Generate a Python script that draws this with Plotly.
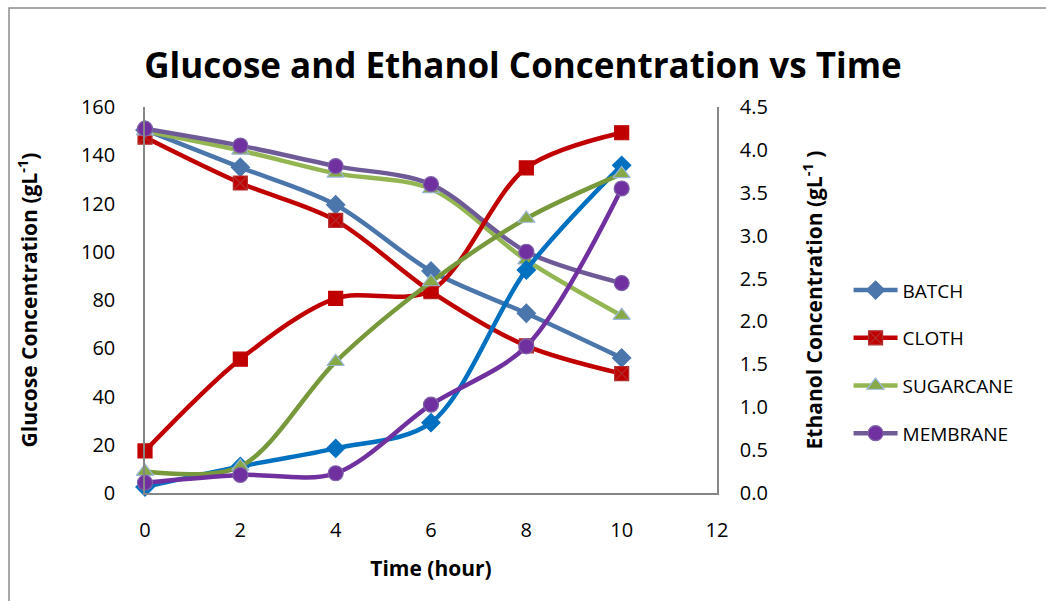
import plotly.graph_objects as go

time_h = [0, 2, 4, 6, 8, 10]
series_names = ["BATCH", "CLOTH", "SUGARCANE", "MEMBRANE"]

glucose_batch = [150.5, 135, 119.5, 92, 74.5, 56]
glucose_cloth = [147.5, 128.5, 113, 83.5, 61, 49.5]
glucose_sugarcane = [150, 142, 132.5, 126, 96.5, 73.5]
glucose_membrane = [151, 144, 135.5, 128, 100, 87]

ethanol_batch = [0.07, 0.31, 0.52, 0.82, 2.6, 3.82]
ethanol_cloth = [0.49, 1.56, 2.27, 2.36, 3.79, 4.2]
ethanol_sugarcane = [0.25, 0.31, 1.53, 2.46, 3.2, 3.72]
ethanol_membrane = [0.12, 0.21, 0.23, 1.03, 1.71, 3.55]

glucose = [glucose_batch, glucose_cloth, glucose_sugarcane, glucose_membrane]
ethanol = [ethanol_batch, ethanol_cloth, ethanol_sugarcane, ethanol_membrane]

FONT = "Open Sans"

glu_style = [
    dict(line="#4A76AC", marker="#4A76AC", mline="#4A76AC", symbol="diamond", size=14),
    dict(line="#C00000", marker="#C00000", mline="#B03030", symbol="square-x", size=14),
    dict(line="#93B653", marker="#86A845", mline="#9BB7D9", symbol="triangle-up", size=15),
    dict(line="#6F5A98", marker="#7030A0", mline="#7E63A6", symbol="circle", size=15),
]
eth_style = [
    dict(line="#0070C0", marker="#0070C0", mline="#0070C0", symbol="diamond", size=14),
    dict(line="#C00000", marker="#C00000", mline="#C00000", symbol="square", size=14),
    dict(line="#77993B", marker="#86A845", mline="#9BB7D9", symbol="triangle-up", size=15),
    dict(line="#7030A0", marker="#7030A0", mline="#7E63A6", symbol="circle", size=15),
]

fig = go.Figure()

for i, name in enumerate(series_names):
    s = eth_style[i]
    fig.add_trace(go.Scatter(
        x=time_h, y=ethanol[i], yaxis="y2", name=name, showlegend=False,
        mode="lines+markers", line=dict(color=s["line"], width=4.5, shape="spline", smoothing=0.9),
        marker=dict(symbol=s["symbol"], size=s["size"], color=s["marker"],
                    line=dict(color=s["mline"], width=1.2)),
        cliponaxis=False,
    ))

for i, name in enumerate(series_names):
    s = glu_style[i]
    fig.add_trace(go.Scatter(
        x=time_h, y=glucose[i], yaxis="y", name=name, legendgroup=name,
        mode="lines+markers", line=dict(color=s["line"], width=4.5, shape="spline", smoothing=0.9),
        marker=dict(symbol=s["symbol"], size=s["size"], color=s["marker"],
                    line=dict(color=s["mline"], width=1.2)),
        cliponaxis=False,
    ))

axis_col = "#868686"
fig.update_layout(
    width=1046, height=601,
    margin=dict(l=145, r=329, t=107, b=108),
    paper_bgcolor="white", plot_bgcolor="white",
    font=dict(family=FONT, color="#000000", size=19),
    title=dict(text="<b>Glucose and Ethanol Concentration vs Time</b>",
               x=0.5, xanchor="center", y=1 - 66 / 601, yanchor="middle",
               font=dict(family=FONT, size=35, color="#000000")),
    xaxis=dict(range=[0, 12], dtick=2, showgrid=False, zeroline=False,
               showline=True, linecolor=axis_col, linewidth=1.5,
               ticks="", tickfont=dict(size=20), ticklabelstandoff=18,
               title=dict(text="<b>Time (hour)</b>", font=dict(size=21), standoff=20)),
    yaxis=dict(range=[0, 160], dtick=20, showgrid=False, zeroline=False,
               showline=True, linecolor=axis_col, linewidth=1.5,
               ticks="", tickfont=dict(size=20), ticklabelstandoff=24,
               title=dict(text="<b>Glucose Concentration (gL<sup>-1</sup>)</b>",
                          font=dict(size=21), standoff=38)),
    yaxis2=dict(range=[0, 4.5], dtick=0.5, tick0=0, tickmode="linear", tickformat=".1f",
                overlaying="y", side="right",
                showgrid=False, zeroline=False, showline=True, linecolor=axis_col, linewidth=1.5,
                ticks="", tickfont=dict(size=20), ticklabelstandoff=17,
                title=dict(text="<b>Ethanol Concentration (gL<sup>-1</sup> )</b>",
                           font=dict(size=21), standoff=40)),
    legend=dict(x=1.23, xanchor="left", y=0.34, yanchor="middle",
                font=dict(size=19), tracegroupgap=20, itemwidth=44,
                bgcolor="rgba(0,0,0,0)"),
    shapes=[dict(type="rect", xref="paper", yref="paper",
                 x0=(9 - 145) / 572, x1=2.0, y0=-2.0, y1=(493 - 8) / 386,
                 line=dict(color="#8C8C8C", width=1.5), layer="below")],
)

fig.write_html("out.html")
